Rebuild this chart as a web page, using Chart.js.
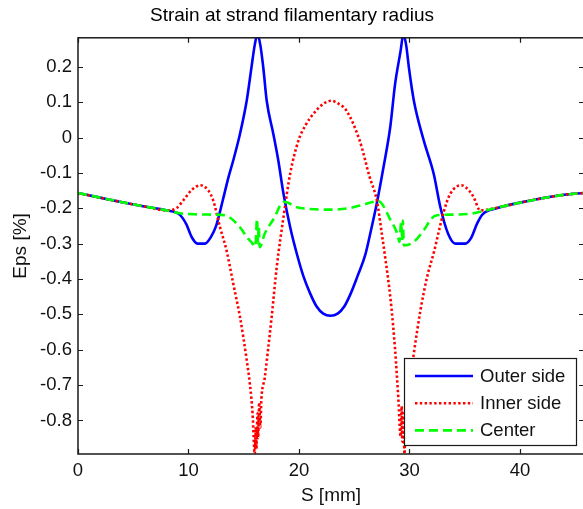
<!DOCTYPE html>
<html>
<head>
<meta charset="utf-8">
<script src="https://cdn.jsdelivr.net/npm/chart.js@4.4.1/dist/chart.umd.min.js"></script>
<style>
  html, body { margin: 0; padding: 0; background: #fff; overflow: hidden; }
  #wrap { width: 584px; height: 509px; }
</style>
</head>
<body>
<div id="wrap"><canvas id="strainChart" width="584" height="509"></canvas></div>
<script>
// Strain along the strand, three positions across the filament
const seriesLabels = ['Outer side', 'Inner side', 'Center'];

const sOuter = [0, 2, 4, 6, 8, 9.2, 9.8, 10.3, 10.8, 11.5, 12.0, 12.5, 13.1, 13.6, 14.05, 14.66, 15.27, 15.7, 16.0, 16.25,
  16.5, 16.77, 17.08, 17.68, 18.13, 18.6, 19.2, 19.8, 20.4, 21.0, 21.6, 22.2, 22.85, 23.5, 24.1, 24.7, 25.3, 26.0,
  26.5, 27.05, 27.65, 28.26, 28.7, 29.2, 29.45, 29.7, 29.95, 30.4, 31.3, 32.2, 32.8, 33.5, 34.15, 35.05, 35.6, 36.1,
  36.6, 37.9, 41.0, 44.0, 45.8];
const epsOuter = [-0.157, -0.170, -0.183, -0.195, -0.206, -0.218, -0.245, -0.282, -0.300, -0.300, -0.283, -0.250, -0.178, -0.115, -0.065, 0.010, 0.104, 0.198, 0.262, 0.292,
  0.262, 0.198, 0.104, 0.010, -0.065, -0.159, -0.253, -0.328, -0.392, -0.440, -0.478, -0.498, -0.504, -0.498, -0.478, -0.440, -0.392, -0.332,
  -0.265, -0.185, -0.084, 0.029, 0.151, 0.245, 0.292, 0.262, 0.198, 0.104, -0.009, -0.103, -0.197, -0.272, -0.300, -0.300, -0.283, -0.245,
  -0.218, -0.200, -0.178, -0.162, -0.157];

const sInner = [0, 2, 4, 6, 8, 8.9, 9.6, 10.3, 11.1, 11.8, 12.24, 12.85, 13.45, 14.05, 14.66, 15.27, 15.57, 15.8, 16.0, 16.1,
  16.15, 16.25, 16.3, 16.4, 16.5, 16.6, 16.9, 17.2, 17.53, 17.99, 18.6, 19.2, 19.95, 20.6, 21.3, 22.2, 22.9, 23.6, 24.3,
  25.5, 26.4, 27.05, 27.5, 27.8, 28.3, 28.7, 29.0, 29.2, 29.3, 29.35, 29.45, 29.55, 29.65, 29.85, 30.4, 31.0, 31.6,
  32.25, 32.7, 33.1, 33.7, 34.7, 35.4, 35.8, 36.4, 38.0, 41.0, 44.0, 45.8];
const epsInner = [-0.157, -0.170, -0.183, -0.195, -0.206, -0.200, -0.175, -0.148, -0.135, -0.150, -0.178, -0.253, -0.320, -0.413, -0.507, -0.629, -0.700, -0.780, -0.895, -0.820,
  -0.880, -0.780, -0.850, -0.750, -0.820, -0.740, -0.680, -0.600, -0.507, -0.366, -0.225, -0.103, -0.009, 0.035, 0.067, 0.095, 0.104, 0.095, 0.076,
  -0.009, -0.112, -0.178, -0.272, -0.338, -0.460, -0.600, -0.740, -0.845, -0.760, -0.860, -0.780, -0.895, -0.800, -0.740, -0.610, -0.488, -0.394,
  -0.320, -0.260, -0.210, -0.159, -0.135, -0.150, -0.168, -0.206, -0.198, -0.178, -0.162, -0.157];

const sCenter = [0, 2, 4, 6, 8, 9.2, 10.5, 12.0, 13.3, 14.5, 15.4, 15.8, 16.0, 16.1, 16.2, 16.3, 16.35, 16.45, 16.9, 17.8,
  18.4, 18.7, 19.8, 21.0, 22.8, 24.5, 25.8, 27.2, 28.3, 28.9, 29.1, 29.25, 29.35, 29.4, 29.5, 30.4, 31.3, 32.0, 32.5,
  34.0, 35.4, 36.4, 38.0, 41.0, 44.0, 45.8];
const epsCenter = [-0.157, -0.170, -0.183, -0.195, -0.206, -0.214, -0.217, -0.218, -0.220, -0.248, -0.286, -0.300, -0.309, -0.290, -0.230, -0.300, -0.250, -0.310, -0.272, -0.225,
  -0.187, -0.182, -0.197, -0.202, -0.204, -0.200, -0.190, -0.180, -0.234, -0.272, -0.295, -0.240, -0.290, -0.235, -0.305, -0.295, -0.262, -0.229, -0.220,
  -0.218, -0.216, -0.210, -0.198, -0.178, -0.162, -0.157];

const xTicks = [0, 10, 20, 30, 40];
const yTicks = [-0.8, -0.7, -0.6, -0.5, -0.4, -0.3, -0.2, -0.1, 0, 0.1, 0.2];

const FONT = '"Liberation Sans", Arial, sans-serif';

function points(xs, ys) {
  return xs.map((x, i) => ({ x: x, y: ys[i] }));
}

// axes box with inward ticks on all four sides
const axesBox = {
  id: 'axesBox',
  afterDatasetsDraw(chart) {
    const { ctx, chartArea: a, scales } = chart;
    ctx.save();
    ctx.strokeStyle = '#1a1a1a';
    ctx.lineWidth = 1.5;
    ctx.strokeRect(a.left, a.top, a.right - a.left, a.bottom - a.top);
    ctx.lineWidth = 1.2;
    ctx.beginPath();
    xTicks.forEach(v => {
      const px = Math.round(scales.x.getPixelForValue(v)) + 0.5;
      ctx.moveTo(px, a.bottom); ctx.lineTo(px, a.bottom - 5);
      ctx.moveTo(px, a.top); ctx.lineTo(px, a.top + 5);
    });
    yTicks.forEach(v => {
      const py = Math.round(scales.y.getPixelForValue(v)) + 0.5;
      ctx.moveTo(a.left, py); ctx.lineTo(a.left + 5, py);
      ctx.moveTo(a.right, py); ctx.lineTo(a.right - 5, py);
    });
    ctx.stroke();
    ctx.restore();
  }
};

// boxed legend in the lower right corner of the axes
const boxLegend = {
  id: 'boxLegend',
  afterDraw(chart) {
    const { ctx } = chart;
    const x0 = 404.5, y0 = 358.5, w = 172, h = 87;
    ctx.save();
    ctx.fillStyle = '#fff';
    ctx.fillRect(x0, y0, w, h);
    ctx.strokeStyle = '#1a1a1a';
    ctx.lineWidth = 1.2;
    ctx.strokeRect(x0, y0, w, h);
    ctx.font = '18.5px ' + FONT;
    ctx.textBaseline = 'middle';
    chart.data.datasets.forEach((ds, i) => {
      const y = 376 + i * 27.2;
      ctx.strokeStyle = ds.borderColor;
      ctx.lineWidth = ds.borderWidth;
      ctx.setLineDash(ds.borderDash || []);
      ctx.beginPath();
      ctx.moveTo(415, y); ctx.lineTo(473, y);
      ctx.stroke();
      ctx.setLineDash([]);
      ctx.fillStyle = '#111';
      ctx.fillText(ds.label, 480, y + 1);
    });
    ctx.restore();
  }
};

const ctx = document.getElementById('strainChart').getContext('2d');
new Chart(ctx, {
  type: 'line',
  data: {
    datasets: [
      {
        label: seriesLabels[0],
        data: points(sOuter, epsOuter),
        borderColor: '#0000ff',
        borderWidth: 2.6,
        order: 2
      },
      {
        label: seriesLabels[1],
        data: points(sInner, epsInner),
        borderColor: '#ff0000',
        borderWidth: 2.6,
        borderDash: [2.4, 2.4],
        order: 1
      },
      {
        label: seriesLabels[2],
        data: points(sCenter, epsCenter),
        borderColor: '#00ff00',
        borderWidth: 2.6,
        borderDash: [9, 5],
        order: 0
      }
    ]
  },
  options: {
    responsive: false,
    animation: false,
    devicePixelRatio: 1,
    layout: { padding: { top: 0, left: 0, right: 0, bottom: 0 } },
    elements: {
      point: { radius: 0 },
      line: { cubicInterpolationMode: 'monotone', fill: false }
    },
    datasets: { line: { clip: 0 } },
    plugins: {
      legend: { display: false },
      tooltip: { enabled: false },
      title: {
        display: true,
        text: 'Strain at strand filamentary radius',
        color: '#000',
        font: { family: FONT, size: 19, weight: 'normal' },
        padding: { top: 4, bottom: 11 }
      }
    },
    scales: {
      x: {
        type: 'linear',
        min: 0,
        max: 45.8,
        grid: { display: false },
        border: { display: false },
        afterBuildTicks: s => { s.ticks = xTicks.map(v => ({ value: v })); },
        afterFit: s => { s.height = 55; },
        ticks: {
          color: '#111',
          padding: -2,
          maxRotation: 0,
          font: { family: FONT, size: 18.5 },
          callback: v => String(v)
        },
        title: {
          display: true,
          text: 'S [mm]',
          color: '#111',
          font: { family: FONT, size: 19 },
          padding: { top: 0, bottom: 2 }
        }
      },
      y: {
        type: 'linear',
        min: -0.895,
        max: 0.282,
        grid: { display: false },
        border: { display: false },
        afterBuildTicks: s => { s.ticks = yTicks.map(v => ({ value: v })); },
        afterFit: s => { s.width = 78; },
        ticks: {
          color: '#111',
          padding: -2,
          font: { family: FONT, size: 18.5 },
          callback: v => String(v)
        },
        title: {
          display: true,
          text: 'Eps [%]',
          color: '#111',
          font: { family: FONT, size: 19 },
          padding: { top: 9, bottom: 0 }
        }
      }
    }
  },
  plugins: [axesBox, boxLegend]
});
</script>
</body>
</html>
